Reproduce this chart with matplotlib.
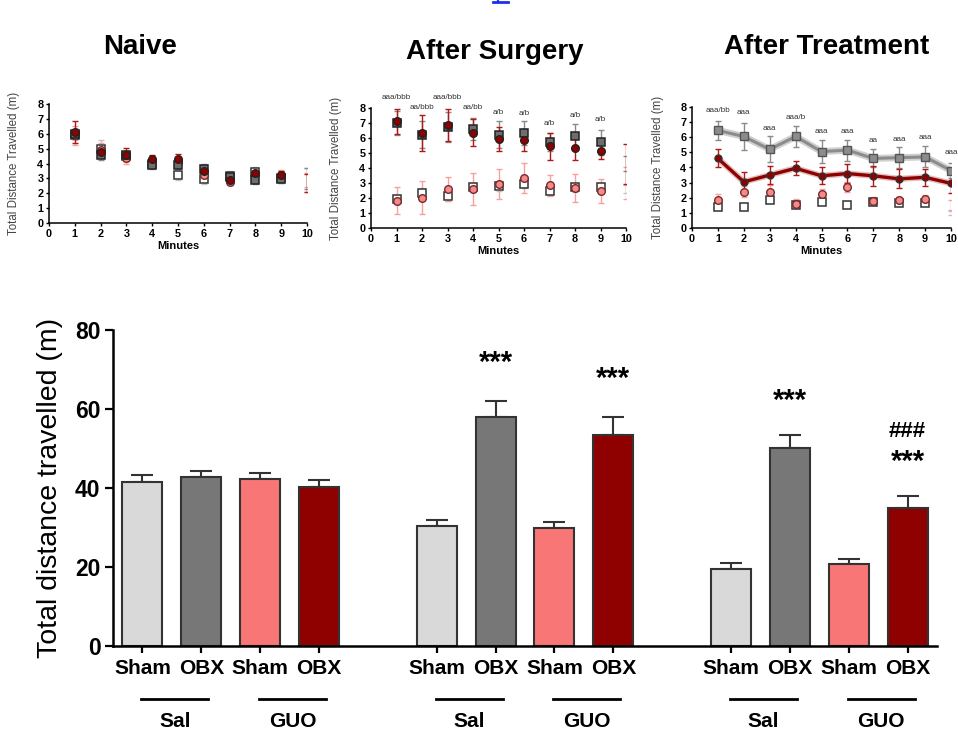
import matplotlib
matplotlib.use('Agg')
import matplotlib.pyplot as plt
import numpy as np
from matplotlib.lines import Line2D

plt.rcParams['font.family'] = ['Liberation Sans', 'DejaVu Sans']

# ---- top panels: distance per minute (m), 4 groups ----
minutes = np.arange(1, 11)

naive_sal_sham = [5.9, 5.0, 4.5, 4.0, 3.2, 2.95, 3.15, 3.45, 3.0, 2.9]
naive_sal_sham_err = [0.35, 0.6, 0.35, 0.3, 0.3, 0.3, 0.35, 0.3, 0.3, 0.8]
naive_sal_obx = [6.0, 4.55, 4.55, 3.9, 3.9, 3.65, 3.1, 2.9, 2.95, 3.0]
naive_sal_obx_err = [0.35, 0.3, 0.3, 0.25, 0.3, 0.3, 0.25, 0.25, 0.25, 0.7]
naive_guo_sham = [5.9, 4.9, 4.4, 4.2, 4.1, 3.2, 2.75, 3.3, 3.2, 2.9]
naive_guo_sham_err = [0.65, 0.5, 0.45, 0.3, 0.35, 0.3, 0.2, 0.4, 0.35, 0.45]
naive_guo_obx = [6.1, 4.75, 4.6, 4.3, 4.3, 3.5, 2.9, 3.35, 3.2, 2.7]
naive_guo_obx_err = [0.75, 0.4, 0.45, 0.25, 0.35, 0.3, 0.25, 0.3, 0.3, 0.6]

surg_sal_sham = [1.9, 2.3, 2.1, 2.7, 2.8, 2.95, 2.45, 2.7, 2.7, 2.6]
surg_sal_sham_err = [0.3, 0.35, 0.3, 0.3, 0.35, 0.3, 0.25, 0.3, 0.3, 0.28]
surg_sal_obx = [7.0, 6.2, 6.75, 6.6, 6.2, 6.35, 5.7, 6.15, 5.7, 4.3]
surg_sal_obx_err = [0.8, 0.9, 1.0, 0.75, 0.9, 0.8, 0.6, 0.8, 0.85, 0.5]
surg_guo_sham = [1.8, 2.0, 2.6, 2.6, 2.9, 3.3, 2.85, 2.65, 2.45, 3.0]
surg_guo_sham_err = [0.9, 1.1, 0.8, 1.05, 1.0, 1.0, 0.7, 0.95, 0.8, 1.05]
surg_guo_obx = [7.1, 6.3, 6.85, 6.35, 5.95, 5.85, 5.45, 5.3, 5.15, 4.25]
surg_guo_obx_err = [0.85, 1.2, 1.05, 0.9, 0.8, 0.75, 0.9, 0.8, 0.55, 1.35]
surg_stats = ["aaa/bbb", "aa/bbb", "aaa/bbb", "aa/bb", "a/b", "a/b", "a/b", "a/b", "a/b"]
surg_stats_y = [8.69, 8.02, 8.69, 8.0, 7.69, 7.6, 6.98, 7.53, 7.2]

treat_sal_sham = [1.4, 1.4, 1.85, 1.55, 1.75, 1.5, 1.75, 1.65, 1.65, 1.0]
treat_sal_sham_err = [0.1, 0.1, 0.15, 0.1, 0.12, 0.1, 0.12, 0.12, 0.12, 0.15]
treat_sal_obx = [6.45, 6.05, 5.2, 6.05, 5.05, 5.15, 4.6, 4.65, 4.7, 3.8]
treat_sal_obx_err = [0.65, 0.9, 0.85, 0.72, 0.75, 0.7, 0.6, 0.68, 0.7, 0.5]
treat_guo_sham = [1.85, 2.4, 2.4, 1.6, 2.25, 2.7, 1.8, 1.85, 1.95, 1.5]
treat_guo_sham_err = [0.4, 0.35, 0.45, 0.3, 0.3, 0.35, 0.25, 0.2, 0.2, 0.32]
treat_guo_obx = [4.6, 3.05, 3.5, 3.95, 3.45, 3.6, 3.45, 3.25, 3.35, 2.95]
treat_guo_obx_err = [0.6, 0.65, 0.6, 0.45, 0.57, 0.6, 0.68, 0.62, 0.55, 0.62]
treat_stats = ["aaa/bb", "aaa", "aaa", "aaa/b", "aaa", "aaa", "aa", "aaa", "aaa", "aaa"]
treat_stats_y = [7.8, 7.64, 6.6, 7.3, 6.37, 6.37, 5.77, 5.88, 5.97, 4.98]

# ---- bottom panel: total distance (m) ----
bar_labels = ["Sham", "OBX", "Sham", "OBX"] * 3
group_labels = ["Sal", "GUO"] * 3
bar_means = [41.5, 42.8, 42.2, 40.3, 30.5, 57.9, 30.0, 53.4, 19.5, 50.2, 20.8, 35.0]
bar_sems = [1.7, 1.4, 1.6, 1.7, 1.5, 4.2, 1.5, 4.5, 1.6, 3.2, 1.2, 3.0]

c_sham = '#d9d9d9'
c_obx = '#777777'
c_gsham = '#f97676'
c_gobx = '#8f0000'

fig = plt.figure(figsize=(9.58, 7.36), dpi=100)
W, H = 958.0, 736.0


def px_axes(x0, x1, ytop, ybot):
    return fig.add_axes([x0 / W, 1 - ybot / H, (x1 - x0) / W, (ybot - ytop) / H])


def small_panel(ax, s1, e1, s2, e2, s3, e3, s4, e4, lines=False):
    # error bars first, then markers for minutes 1-9
    ax.errorbar(minutes, s1, yerr=e1, fmt='none', ecolor='#c4c4c4', elinewidth=1, capsize=2.5, zorder=2)
    ax.errorbar(minutes, s3, yerr=e3, fmt='none', ecolor='#f7a0a0', elinewidth=1, capsize=2.5, zorder=2)
    ax.errorbar(minutes, s2, yerr=e2, fmt='none', ecolor='#8a8a8a', elinewidth=1, capsize=2.5, zorder=3)
    ax.errorbar(minutes, s4, yerr=e4, fmt='none', ecolor='#b01818', elinewidth=1, capsize=2.5, zorder=3)
    n = 9
    ax.plot(minutes[:n], s1[:n], 's', ms=6, mfc='white', mec='#333333', mew=1.1, zorder=4)
    ax.plot(minutes[:n], s3[:n], 'o', ms=5.5, mfc='#f58a8a', mec='#7a2a2a', mew=1.0, zorder=4)
    if lines:
        ax.plot(minutes, s2, '-', color='#d0d0d0', lw=5, zorder=4, solid_capstyle='round')
        ax.plot(minutes, s2, '-s', color='#8c8c8c', lw=2.2, ms=6, mfc='#8c8c8c', mec='#555555', zorder=5)
        ax.plot(minutes, s4, '-', color='#c98080', lw=4.5, zorder=4, alpha=0.5)
        ax.plot(minutes, s4, '-o', color='#8f0000', lw=2.4, ms=5, mfc='#8f0000', mec='#333333', zorder=6)
    else:
        ax.plot(minutes[:n], s2[:n], 's', ms=6, mfc='#6e6e6e', mec='#222222', mew=1.1, zorder=5)
        ax.plot(minutes[:n], s4[:n], 'o', ms=5.5, mfc='#8f0000', mec='#222222', mew=1.0, zorder=6)
    ax.set_xlim(0, 10)
    ax.set_ylim(0, 8)
    ax.set_xticks(range(0, 11))
    ax.set_yticks(range(0, 9))
    for side in ['top', 'right']:
        ax.spines[side].set_visible(False)
    for side in ['left', 'bottom']:
        ax.spines[side].set_linewidth(1.1)
    ax.tick_params(direction='out', length=2.5, width=1.0, labelsize=7.8, pad=1.5)
    for lab in ax.get_xticklabels() + ax.get_yticklabels():
        lab.set_fontweight('bold')
    ax.set_xlabel('Minutes', fontsize=8, fontweight='bold', labelpad=2)


ax1 = px_axes(49, 307, 104, 223)
small_panel(ax1, naive_sal_sham, naive_sal_sham_err, naive_sal_obx, naive_sal_obx_err,
            naive_guo_sham, naive_guo_sham_err, naive_guo_obx, naive_guo_obx_err)
ax2 = px_axes(371, 626, 108, 228)
small_panel(ax2, surg_sal_sham, surg_sal_sham_err, surg_sal_obx, surg_sal_obx_err,
            surg_guo_sham, surg_guo_sham_err, surg_guo_obx, surg_guo_obx_err)
ax3 = px_axes(692, 951, 107, 228)
small_panel(ax3, treat_sal_sham, treat_sal_sham_err, treat_sal_obx, treat_sal_obx_err,
            treat_guo_sham, treat_guo_sham_err, treat_guo_obx, treat_guo_obx_err, lines=True)

for m, s, y in zip(minutes, surg_stats, surg_stats_y):
    ax2.text(m, y, s, ha='center', va='center', fontsize=5.8, color='#333333')
for m, s, y in zip(minutes, treat_stats, treat_stats_y):
    ax3.text(m, y, s, ha='center', va='center', fontsize=5.8, color='#333333')

# titles and small y labels
fig.text(140 / W, 1 - 47 / H, 'Naive', ha='center', va='center', fontsize=20, fontweight='bold')
fig.text(495 / W, 1 - 52 / H, 'After Surgery', ha='center', va='center', fontsize=20, fontweight='bold')
fig.text(827 / W, 1 - 47 / H, 'After Treatment', ha='center', va='center', fontsize=20, fontweight='bold')
for xl, yc in [(14, 163), (336, 168), (658, 167)]:
    fig.text(xl / W, 1 - yc / H, 'Total Distance Travelled (m)', rotation=90,
             ha='center', va='center', fontsize=8.3, color='#444444')

# small blue link mark cut by the top edge
fig.add_artist(Line2D([493 / W, 508 / W], [1 - 2 / H, 1 - 2 / H], color='#1a2ff0', lw=2.0))
fig.add_artist(Line2D([498 / W, 498 / W], [1 - 2 / H, 1.0], color='#1a2ff0', lw=1.5))

# ---- bottom bar chart ----
ax = px_axes(113, 937, 330, 646)
positions = [0, 1, 2, 3, 5, 6, 7, 8, 10, 11, 12, 13]
colors = [c_sham, c_obx, c_gsham, c_gobx] * 3
ax.bar(positions, bar_means, width=0.68, color=colors, edgecolor='#333333', linewidth=1.5, zorder=2)
ax.errorbar(positions, bar_means, yerr=[np.zeros(len(bar_sems)), bar_sems], fmt='none',
            ecolor='#333333', elinewidth=1.5, capsize=8, capthick=1.5, zorder=1)

ax.set_xlim(-0.5, 13.5)
ax.set_ylim(0, 80)
ax.set_yticks([0, 20, 40, 60, 80])
ax.set_xticks(positions)
ax.set_xticklabels(bar_labels)
for side in ['top', 'right']:
    ax.spines[side].set_visible(False)
for side in ['left', 'bottom']:
    ax.spines[side].set_linewidth(1.8)
ax.tick_params(axis='y', direction='out', length=6, width=1.6, labelsize=16.5, pad=3)
ax.tick_params(axis='x', direction='out', length=5, width=1.6, labelsize=15, pad=4)
for lab in ax.get_xticklabels() + ax.get_yticklabels():
    lab.set_fontweight('bold')

fig.text(50 / W, 1 - 488 / H, 'Total distance travelled (m)', rotation=90,
         ha='center', va='center', fontsize=20.5)

# group underlines and labels
trans = ax.get_xaxis_transform()
for i, g in enumerate(group_labels):
    x0 = positions[2 * i]
    ax.plot([x0 - 0.02, x0 + 1.12], [-0.168, -0.168], color='black', lw=2, transform=trans, clip_on=False)
    ax.text(x0 + 0.55, -0.2405, g, transform=trans, ha='center', va='center',
            fontsize=15, fontweight='bold')

# significance marks
ax.text(6, 71.6, '***', ha='center', va='center', fontsize=21, fontweight='bold')
ax.text(8, 67.6, '***', ha='center', va='center', fontsize=21, fontweight='bold')
ax.text(11, 62.1, '***', ha='center', va='center', fontsize=21, fontweight='bold')
ax.text(13, 54.4, '###', ha='center', va='center', fontsize=16, fontweight='bold')
ax.text(13, 46.6, '***', ha='center', va='center', fontsize=21, fontweight='bold')

fig.savefig('out.png', dpi=100)
